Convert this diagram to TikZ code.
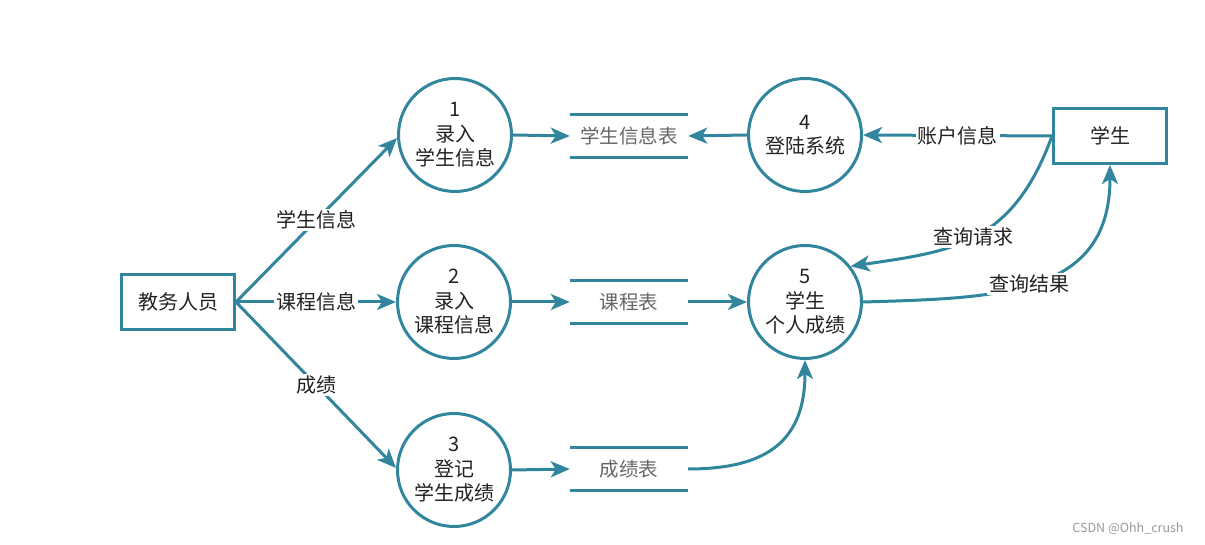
\documentclass[tikz,border=0pt]{standalone}
\usepackage{fontspec}
\usepackage{xcolor}
\usepackage{tikz}
\usetikzlibrary{arrows.meta}
\newfontfamily\cjk{Noto Sans CJK SC}
\definecolor{flowteal}{HTML}{31859C}
\definecolor{storegray}{HTML}{666666}
\definecolor{inkblack}{HTML}{222222}

\begin{document}
\begin{tikzpicture}[x=1pt,y=1pt]
    \tikzstyle{proc}=[circle,draw=flowteal,line width=3pt,minimum size=113pt,inner sep=0pt,align=center,text=inkblack,font=\cjk\fontsize{20}{24.5}\selectfont]
    \tikzstyle{entity}=[rectangle,draw=flowteal,line width=3pt,minimum width=113pt,minimum height=55pt,text=inkblack,font=\cjk\fontsize{20}{24.5}\selectfont]
    \tikzstyle{store}=[minimum width=118pt,minimum height=42pt,inner sep=0pt,text=storegray,font=\cjk\fontsize{19.5}{24}\selectfont]
    \tikzstyle{storeline}=[draw=flowteal,line width=3pt]
    \tikzstyle{flow}=[draw=flowteal,line width=3pt,-{Stealth[length=19pt,width=16pt,inset=5pt]}]
    \tikzstyle{lbl}=[fill=white,inner sep=2pt,text=inkblack,font=\cjk\fontsize{20}{24.5}\selectfont]

    \useasboundingbox (0,0) rectangle (1205,545);

    \node[entity] (staff) at (178,243) {教务人员};
    \node[entity] (student) at (1110,409) {学生};

    \node[proc] (p1) at (455,410) {1\\录入\\学生信息};
    \node[proc] (p2) at (454,243) {2\\录入\\课程信息};
    \node[proc] (p3) at (454,75) {3\\登记\\学生成绩};
    \node[proc] (p4) at (805,410) {4\\登陆系统};
    \node[proc] (p5) at (805,243) {5\\学生\\个人成绩};

    \node[store] (sinfo) at (629,409) {学生信息表};
    \node[store] (scourse) at (629,243) {课程表};
    \node[store] (sgrade) at (629,76) {成绩表};

    \foreach \s in {sinfo,scourse,sgrade} {
        \draw[storeline] (\s.north west) -- (\s.north east);
        \draw[storeline] (\s.south west) -- (\s.south east);
    }

    \draw[flow] (staff.east) -- node[lbl] {学生信息} (p1.183);
    \draw[flow] (staff.east) -- node[lbl] {课程信息} (p2.west);
    \draw[flow] (staff.east) -- node[lbl] {成绩} (p3.178);

    \draw[flow] (p1.east) -- (sinfo.west);
    \draw[flow] (p4.west) -- (sinfo.east);
    \draw[flow] (student.west) -- node[lbl] {账户信息} (p4.east);

    \draw[flow] (p2.east) -- (scourse.west);
    \draw[flow] (scourse.east) -- (p5.west);
    \draw[flow] (p3.east) -- (sgrade.west);
    \draw[flow] (sgrade.east) .. controls +(80,0) and +(0,-80) .. (p5.south);

    \draw[flow] (student.west) .. controls +(-40,-110) and +(100,15) .. node[lbl,pos=0.5] {查询请求} (p5.38);
    \draw[flow] (p5.east) .. controls +(140,4) and +(0,-130) .. node[lbl,pos=0.465] {查询结果} (student.south);

    \node[text=gray!80,font=\cjk\fontsize{12.5}{15}\selectfont] (csdn) at (1128,16) {CSDN @Ohh\_crush};
\end{tikzpicture}
\end{document}
